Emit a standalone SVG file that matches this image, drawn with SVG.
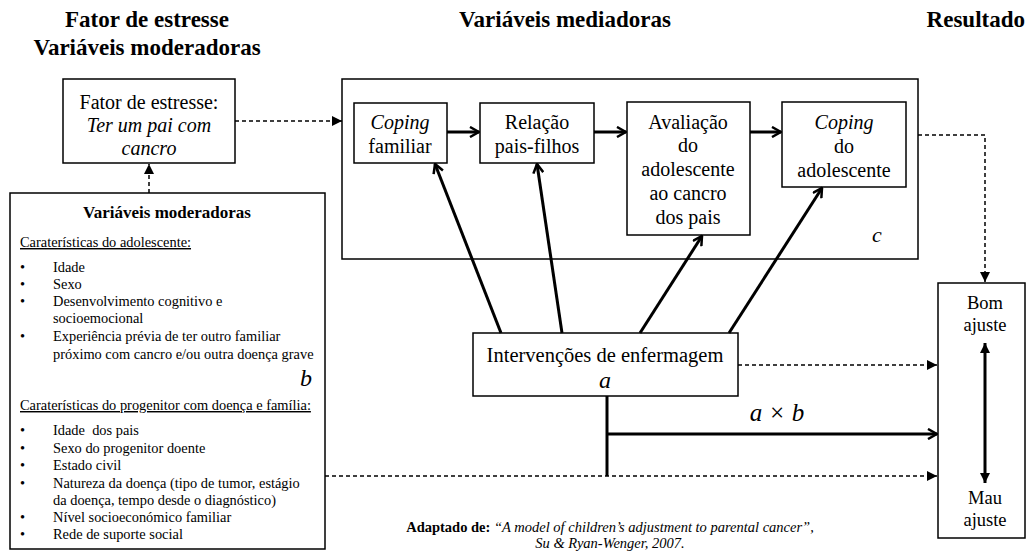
<svg xmlns="http://www.w3.org/2000/svg" width="1027" height="553" viewBox="0 0 1027 553" font-family="'Liberation Serif', 'Times New Roman', serif">
<style>
text{font-family:'Liberation Serif','Times New Roman',serif;fill:#000}
.h{font-size:23px;font-weight:bold}
.b{font-size:20px;text-anchor:middle}
.r{font-size:18.5px;text-anchor:middle}
.m{font-size:14.4px}
.it{font-style:italic}
.box{fill:#fff;stroke:#000;stroke-width:1.5}
.thick{stroke:#000;stroke-width:3;fill:none}
.dash{stroke:#000;stroke-width:1.5;fill:none;stroke-dasharray:4 3}
</style>
<defs>
<marker id="tri" viewBox="0 0 10 10" refX="10" refY="5" markerWidth="10" markerHeight="10" markerUnits="userSpaceOnUse" orient="auto-start-reverse">
<path d="M0,0 L10,5 L0,10 Z" fill="#000"/>
</marker>
<marker id="chev" viewBox="0 0 12 12" refX="11" refY="6" markerWidth="12" markerHeight="12" markerUnits="userSpaceOnUse" orient="auto">
<path d="M2,1 L11,6 L2,11" fill="none" stroke="#000" stroke-width="2.5"/>
</marker>
</defs>
<g id="titles">
<text class="h" x="147" y="27" text-anchor="middle">Fator de estresse</text>
<text class="h" x="147" y="55" text-anchor="middle">Variáveis moderadoras</text>
<text class="h" x="565" y="27" text-anchor="middle">Variáveis mediadoras</text>
<text class="h" x="1025" y="27" text-anchor="end">Resultado</text>
</g>
<g id="stressor">
<rect class="box" x="63" y="79" width="172" height="84"/>
<text class="b" x="149" y="109">Fator de estresse:</text>
<text class="b it" x="149" y="132">Ter um pai com</text>
<text class="b it" x="149" y="155">cancro</text>
</g>
<g id="moderators">
<rect class="box" x="10" y="193" width="315" height="356"/>
<text x="167" y="218" text-anchor="middle" font-size="17" font-weight="bold">Variáveis moderadoras</text>
<text class="m" x="20" y="247" text-decoration="underline">Caraterísticas do adolescente:</text>
<text class="m" x="20" y="272">•</text><text class="m" x="53" y="272">Idade</text>
<text class="m" x="20" y="289">•</text><text class="m" x="53" y="289">Sexo</text>
<text class="m" x="20" y="306">•</text><text class="m" x="53" y="306">Desenvolvimento cognitivo e</text>
<text class="m" x="53" y="323">socioemocional</text>
<text class="m" x="20" y="341">•</text><text class="m" x="53" y="341">Experiência prévia de ter outro familiar</text>
<text class="m" x="53" y="359">próximo com cancro e/ou outra doença grave</text>
<text class="it" x="300" y="386" font-size="24">b</text>
<text class="m" x="20" y="410" text-decoration="underline">Caraterísticas do progenitor com doença e família:</text>
<text class="m" x="20" y="435">•</text><text class="m" x="53" y="435" xml:space="preserve">Idade  dos pais</text>
<text class="m" x="20" y="453">•</text><text class="m" x="53" y="453">Sexo do progenitor doente</text>
<text class="m" x="20" y="470">•</text><text class="m" x="53" y="470">Estado civil</text>
<text class="m" x="20" y="488">•</text><text class="m" x="53" y="488">Natureza da doença (tipo de tumor, estágio</text>
<text class="m" x="53" y="505">da doença, tempo desde o diagnóstico)</text>
<text class="m" x="20" y="522">•</text><text class="m" x="53" y="522">Nível socioeconómico familiar</text>
<text class="m" x="20" y="539">•</text><text class="m" x="53" y="539">Rede de suporte social</text>
</g>
<g id="mediators">
<rect class="box" x="342" y="79" width="576" height="180"/>
<text class="it" x="872" y="242" font-size="22">c</text>
</g>
<g id="coping-familiar">
<rect class="box" x="354" y="103" width="93" height="60"/>
<text class="b it" x="400" y="129">Coping</text>
<text class="b" x="400" y="153">familiar</text>
</g>
<g id="relacao">
<rect class="box" x="480" y="103" width="114" height="60"/>
<text class="b" x="537" y="129">Relação</text>
<text class="b" x="537" y="153">pais-filhos</text>
</g>
<g id="avaliacao">
<rect class="box" x="627" y="102" width="123" height="133"/>
<text class="b" x="688" y="129">Avaliação</text>
<text class="b" x="688" y="152">do</text>
<text class="b" x="688" y="176">adolescente</text>
<text class="b" x="688" y="200">ao cancro</text>
<text class="b" x="688" y="224">dos pais</text>
</g>
<g id="coping-adolescente">
<rect class="box" x="782" y="102" width="124" height="85"/>
<text class="b it" x="844" y="129">Coping</text>
<text class="b" x="844" y="153">do</text>
<text class="b" x="844" y="177">adolescente</text>
</g>
<g id="intervencoes">
<rect class="box" x="473" y="333" width="265" height="63"/>
<text x="605" y="362" text-anchor="middle" font-size="20.5">Intervenções de enfermagem</text>
<text class="it" x="605" y="388" text-anchor="middle" font-size="24">a</text>
</g>
<g id="resultado">
<rect class="box" x="938" y="283" width="87" height="255"/>
<text class="r" x="985" y="309">Bom</text>
<text class="r" x="985" y="331">ajuste</text>
<text class="r" x="985" y="504">Mau</text>
<text class="r" x="985" y="526">ajuste</text>
</g>
<g id="connectors">
<line class="dash" x1="235" y1="121" x2="342" y2="121" marker-end="url(#tri)"/>
<line class="dash" x1="149" y1="193" x2="149" y2="164" marker-end="url(#tri)"/>
<polyline class="dash" points="918,135 985,135 985,282" marker-end="url(#tri)"/>
<line class="thick" x1="447" y1="132" x2="479" y2="132" marker-end="url(#chev)"/>
<line class="thick" x1="594" y1="132" x2="626" y2="132" marker-end="url(#chev)"/>
<line class="thick" x1="750" y1="132" x2="781" y2="132" marker-end="url(#chev)"/>
<line class="thick" x1="501" y1="333" x2="435" y2="164" marker-end="url(#chev)"/>
<line class="thick" x1="562" y1="333" x2="537" y2="164" marker-end="url(#chev)"/>
<line class="thick" x1="640" y1="333" x2="702" y2="236" marker-end="url(#chev)"/>
<line class="thick" x1="729" y1="333" x2="822" y2="188" marker-end="url(#chev)"/>
<line class="dash" x1="738" y1="365" x2="937" y2="365" marker-end="url(#tri)"/>
<line class="thick" x1="607" y1="396" x2="607" y2="476"/>
<line class="thick" x1="607" y1="434" x2="937" y2="434" marker-end="url(#chev)"/>
<line class="dash" x1="325" y1="476" x2="937" y2="476" marker-end="url(#tri)"/>
<line class="thick" x1="985" y1="343" x2="985" y2="483" marker-start="url(#tri)" marker-end="url(#tri)"/>
<text class="it" x="777" y="421" text-anchor="middle" font-size="25">a × b</text>
</g>
<g id="caption" font-size="14.5">
<text x="610" y="532" text-anchor="middle"><tspan font-weight="bold">Adaptado de: </tspan><tspan font-style="italic">“A model of children’s adjustment to parental cancer”,</tspan></text>
<text x="610" y="548" text-anchor="middle" font-style="italic">Su &amp; Ryan-Wenger, 2007.</text>
</g>
</svg>
